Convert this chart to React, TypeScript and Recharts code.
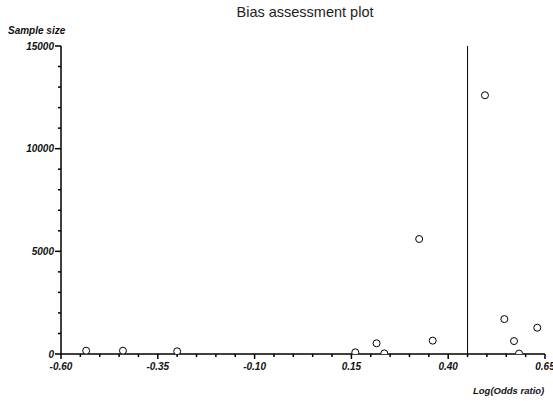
import { ScatterChart, Scatter, XAxis, YAxis, ReferenceLine } from 'recharts';

// study estimates
const logOddsRatio = [-0.535, -0.44, -0.3, 0.16, 0.215, 0.235, 0.325, 0.36, 0.495, 0.545, 0.57, 0.583, 0.63];
const sampleSize = [160, 160, 130, 80, 520, 30, 5600, 650, 12600, 1700, 630, 20, 1280];

const pooledEstimate = 0.45;

const xMajorTicks = [-0.6, -0.35, -0.1, 0.15, 0.4, 0.65];
const yMajorTicks = [0, 5000, 10000, 15000];

// minor ticks every 0.05 / 1000
const xTicks = Array.from({ length: 26 }, (_, i) => Math.round(-60 + i * 5) / 100);
const yTicks = Array.from({ length: 16 }, (_, i) => i * 1000);

const points = logOddsRatio.map((x, i) => ({ x, y: sampleSize[i] }));

const FONT = '"Liberation Sans", Arial, sans-serif';

const isMajor = (list: number[], v: number) => list.some((t) => Math.abs(t - v) < 1e-6);

function XTick({ x, y, payload }: any) {
  const major = isMajor(xMajorTicks, payload.value);
  return (
    <g>
      <line x1={x} x2={x} y1={y} y2={y + (major ? 5 : 3)} stroke="#000" strokeWidth={1.5} />
      {major && (
        <text x={x} y={y + 16} textAnchor="middle" fontSize={10} fontStyle="italic" fontWeight="bold" fontFamily={FONT} fill="#111">
          {payload.value.toFixed(2)}
        </text>
      )}
    </g>
  );
}

function YTick({ x, y, payload }: any) {
  const major = isMajor(yMajorTicks, payload.value);
  return (
    <g>
      <line x1={x} x2={x - (major ? 6 : 3)} y1={y} y2={y} stroke="#000" strokeWidth={1.5} />
      {major && (
        <text x={x - 7} y={y + 3.5} textAnchor="end" fontSize={10} fontStyle="italic" fontWeight="bold" fontFamily={FONT} fill="#111">
          {payload.value}
        </text>
      )}
    </g>
  );
}

const circle = (props: any) => (
  <circle cx={props.cx} cy={props.cy} r={3.5} fill="#fff" stroke="#000" strokeWidth={1} />
);

export default function App() {
  return (
    <div style={{ position: 'absolute', left: 0, top: 0, width: 553, height: 401, background: '#fff' }}>
      <ScatterChart width={553} height={401} margin={{ top: 46, right: 8, bottom: 0, left: 0 }}>
        <XAxis
          type="number"
          dataKey="x"
          domain={[-0.6, 0.65]}
          ticks={xTicks}
          interval={0}
          height={47}
          tickSize={0}
          tickMargin={0}
          tickLine={false}
          tick={<XTick />}
          axisLine={{ stroke: '#000', strokeWidth: 1.5 }}
          allowDataOverflow
        />
        <YAxis
          type="number"
          dataKey="y"
          domain={[0, 15000]}
          ticks={yTicks}
          interval={0}
          width={61}
          tickSize={0}
          tickMargin={0}
          tickLine={false}
          tick={<YTick />}
          axisLine={{ stroke: '#000', strokeWidth: 1.5 }}
          allowDataOverflow
        />
        <ReferenceLine x={pooledEstimate} stroke="#000" strokeWidth={1} />
        <Scatter data={points} shape={circle} isAnimationActive={false} />
      </ScatterChart>
      <svg width={553} height={401} style={{ position: 'absolute', left: 0, top: 0, pointerEvents: 'none' }}>
        <text x={305} y={17} textAnchor="middle" fontSize={14.5} fontFamily={FONT} fill="#222">
          Bias assessment plot
        </text>
        <text x={8} y={34} fontSize={10} fontStyle="italic" fontWeight="bold" fontFamily={FONT} fill="#111">
          Sample size
        </text>
        <text x={473} y={394} fontSize={9.5} fontStyle="italic" fontWeight="bold" fontFamily={FONT} fill="#111">
          Log(Odds ratio)
        </text>
      </svg>
    </div>
  );
}
